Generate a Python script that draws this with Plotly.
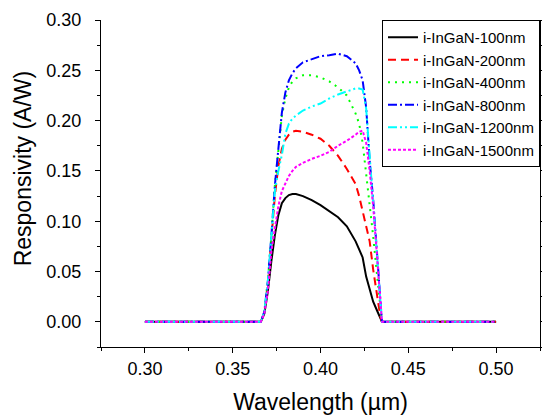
import plotly.graph_objects as go

wavelength = [0.300, 0.366, 0.368, 0.370, 0.372, 0.374, 0.376, 0.378, 0.380, 0.382,
              0.384, 0.386, 0.390, 0.395, 0.400, 0.405, 0.410, 0.415, 0.420, 0.422,
              0.424, 0.426, 0.428, 0.430, 0.432, 0.434, 0.435, 0.500]

r_100 = [0, 0, 0.008, 0.030, 0.060, 0.086, 0.106, 0.118, 0.123, 0.126,
         0.127, 0.127, 0.125, 0.121, 0.116, 0.110, 0.104, 0.095, 0.080, 0.072,
         0.064, 0.045, 0.032, 0.020, 0.012, 0.004, 0, 0]
r_200 = [0, 0, 0.009, 0.038, 0.082, 0.125, 0.155, 0.172, 0.181, 0.186,
         0.189, 0.190, 0.189, 0.186, 0.182, 0.175, 0.165, 0.152, 0.137, 0.125,
         0.110, 0.095, 0.080, 0.052, 0.030, 0.006, 0, 0]
r_400 = [0, 0, 0.010, 0.040, 0.085, 0.135, 0.170, 0.205, 0.222, 0.233,
         0.239, 0.242, 0.245, 0.245, 0.243, 0.239, 0.233, 0.225, 0.207, 0.197,
         0.178, 0.147, 0.120, 0.085, 0.050, 0.012, 0, 0]
r_800 = [0, 0, 0.010, 0.040, 0.085, 0.135, 0.172, 0.208, 0.228, 0.240,
         0.247, 0.252, 0.258, 0.261, 0.264, 0.265, 0.2665, 0.264, 0.257, 0.250,
         0.240, 0.213, 0.160, 0.122, 0.075, 0.020, 0, 0]
r_1200 = [0, 0, 0.010, 0.040, 0.085, 0.130, 0.150, 0.166, 0.187, 0.197,
          0.202, 0.205, 0.210, 0.214, 0.217, 0.222, 0.226, 0.229, 0.232, 0.232,
          0.231, 0.212, 0.165, 0.122, 0.075, 0.020, 0, 0]
r_1500 = [0, 0, 0.008, 0.030, 0.070, 0.095, 0.115, 0.130, 0.138, 0.145,
          0.150, 0.154, 0.158, 0.162, 0.165, 0.169, 0.175, 0.180, 0.186, 0.189,
          0.190, 0.178, 0.150, 0.115, 0.070, 0.020, 0, 0]

names = ["i-InGaN-100nm", "i-InGaN-200nm", "i-InGaN-400nm",
         "i-InGaN-800nm", "i-InGaN-1200nm", "i-InGaN-1500nm"]
x_ticks = ["0.30", "0.35", "0.40", "0.45", "0.50"]
y_ticks = ["0.00", "0.05", "0.10", "0.15", "0.20", "0.25", "0.30"]

series = [r_100, r_200, r_400, r_800, r_1200, r_1500]
colors = ["#000000", "#FF0000", "#00FF00", "#0000FF", "#00FFFF", "#FF00FF"]
dashes = ["solid", "8px,5px", "2px,5px", "9px,3px,2px,3px",
          "9px,3px,2px,3px,2px,3px", "3px,2px"]

FONT = "Liberation Sans, Arial"

fig = go.Figure()
for n, s, c, d in zip(names, series, colors, dashes):
    fig.add_trace(go.Scatter(x=wavelength, y=s, name=n, mode="lines",
                             line=dict(color=c, width=2, dash=d)))

axis_common = dict(showgrid=False, zeroline=False, showline=True,
                   linecolor="black", linewidth=1, ticks="outside",
                   ticklen=5, tickcolor="black", automargin=False,
                   tickfont=dict(family=FONT, size=18, color="black"),
                   minor=dict(ticks="outside", ticklen=3, tickcolor="black"))

fig.update_xaxes(range=[0.275, 0.525], tickvals=[float(t) for t in x_ticks],
                 ticktext=x_ticks,
                 minor_tickvals=[0.275, 0.325, 0.375, 0.425, 0.475, 0.525],
                 title=dict(text="Wavelength (µm)", standoff=17,
                            font=dict(family=FONT, size=23, color="black")),
                 **axis_common)
fig.update_yaxes(range=[-0.025, 0.30], tickvals=[float(t) for t in y_ticks],
                 ticktext=[t + "\u00a0\u00a0" for t in y_ticks],
                 minor_tickvals=[-0.025, 0.025, 0.075, 0.125, 0.175, 0.225, 0.275],
                 mirror="ticks",
                 **axis_common)

fig.add_annotation(text="Responsivity (A/W)", textangle=-90,
                   xref="paper", x=-0.179, xanchor="center",
                   yref="y", y=0.153, yanchor="middle", showarrow=False,
                   font=dict(family=FONT, size=23, color="black"))

fig.update_layout(
    width=542, height=415,
    margin=dict(l=101, r=2, t=20, b=68),
    paper_bgcolor="white", plot_bgcolor="white",
    showlegend=True,
    legend=dict(x=1.0, xanchor="right", y=1.0, yanchor="top",
                bordercolor="black", borderwidth=1, bgcolor="white",
                font=dict(family=FONT, size=15, color="black"),
                tracegroupgap=0, itemwidth=30),
)

fig.write_html("out.html", config={"displayModeBar": False},
               post_script="document.body.style.margin='0';document.body.style.overflow='hidden';")
